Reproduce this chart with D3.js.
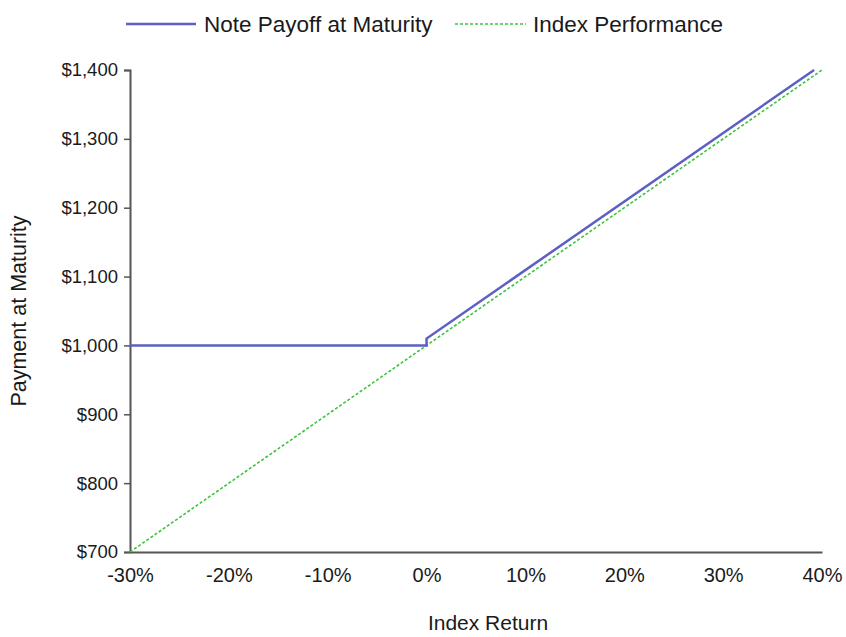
<!DOCTYPE html>
<html><head><meta charset="utf-8">
<script src="https://cdn.jsdelivr.net/npm/d3@7"></script>
<style>body{margin:0;background:#fff;}svg{display:block;font-family:"Liberation Sans",Arial,sans-serif;}</style>
</head><body>
<script>
const seriesNames = ["Note Payoff at Maturity", "Index Performance"];
const noteReturns = [-30, 0, 0, 39.2];
const noteValues = [1000, 1000, 1010, 1400];
const indexReturns = [-30, 40];
const indexValues = [700, 1400];
const xTicks = [-30, -20, -10, 0, 10, 20, 30, 40];
const yTicks = [700, 800, 900, 1000, 1100, 1200, 1300, 1400];
const xTitle = "Index Return";
const yTitle = "Payment at Maturity";

const W = 846, H = 637;
const m = {left: 130, right: 24, top: 70, bottom: 85};
const svg = d3.select("body").append("svg").attr("width", W).attr("height", H);
const x = d3.scaleLinear().domain([-30, 40]).range([m.left, W - m.right]);
const y = d3.scaleLinear().domain([700, 1400]).range([H - m.bottom, m.top]);
const txt = "#1a1a1a";

// y axis
const ya = svg.append("g").attr("transform", `translate(${m.left},0)`)
  .call(d3.axisLeft(y).tickValues(yTicks).tickSize(6).tickPadding(6).tickFormat(d => "$" + d3.format(",")(d)));
ya.select(".domain").attr("stroke", "#555").attr("stroke-width", 2);
ya.selectAll(".tick line").attr("stroke", "#555").attr("stroke-width", 1.5);
ya.selectAll("text").attr("font-size", 18.5).attr("fill", txt).attr("font-family", "Liberation Sans, Arial");

// x axis
const xa = svg.append("g").attr("transform", `translate(0,${H - m.bottom})`)
  .call(d3.axisBottom(x).tickValues(xTicks).tickSize(0).tickPadding(16).tickFormat(d => d + "%"));
xa.select(".domain").attr("stroke", "#555").attr("stroke-width", 2);
xa.selectAll("text").attr("font-size", 20).attr("fill", txt).attr("font-family", "Liberation Sans, Arial");

svg.append("text").attr("x", 488).attr("y", 630)
  .attr("text-anchor", "middle").attr("font-size", 21).attr("fill", txt).text(xTitle);
svg.append("text").attr("transform", `translate(26,${(m.top + H - m.bottom) / 2}) rotate(-90)`)
  .attr("text-anchor", "middle").attr("font-size", 21.5).attr("fill", txt).text(yTitle);

const line = d3.line().x(d => x(d[0])).y(d => y(d[1]));
const indexData = d3.zip(indexReturns, indexValues);
const noteData = d3.zip(noteReturns, noteValues);
svg.append("path").datum(indexData).attr("d", line).attr("fill", "none")
  .attr("stroke", "#3cc43c").attr("stroke-width", 1.6).attr("stroke-dasharray", "3,2");
svg.append("path").datum(noteData).attr("d", line).attr("fill", "none")
  .attr("stroke", "#5c5fc4").attr("stroke-width", 2.5);

// legend
const lg = svg.append("g");
lg.append("line").attr("x1", 126).attr("x2", 196).attr("y1", 24).attr("y2", 24).attr("stroke", "#5c5fc4").attr("stroke-width", 2.5);
lg.append("text").attr("x", 204).attr("y", 32).attr("font-size", 22.5).attr("fill", txt).text(seriesNames[0]);
lg.append("line").attr("x1", 455).attr("x2", 526).attr("y1", 24).attr("y2", 24).attr("stroke", "#3cc43c").attr("stroke-width", 1.6).attr("stroke-dasharray", "3,2");
lg.append("text").attr("x", 533).attr("y", 32).attr("font-size", 22.5).attr("fill", txt).text(seriesNames[1]);
</script>
</body></html>
